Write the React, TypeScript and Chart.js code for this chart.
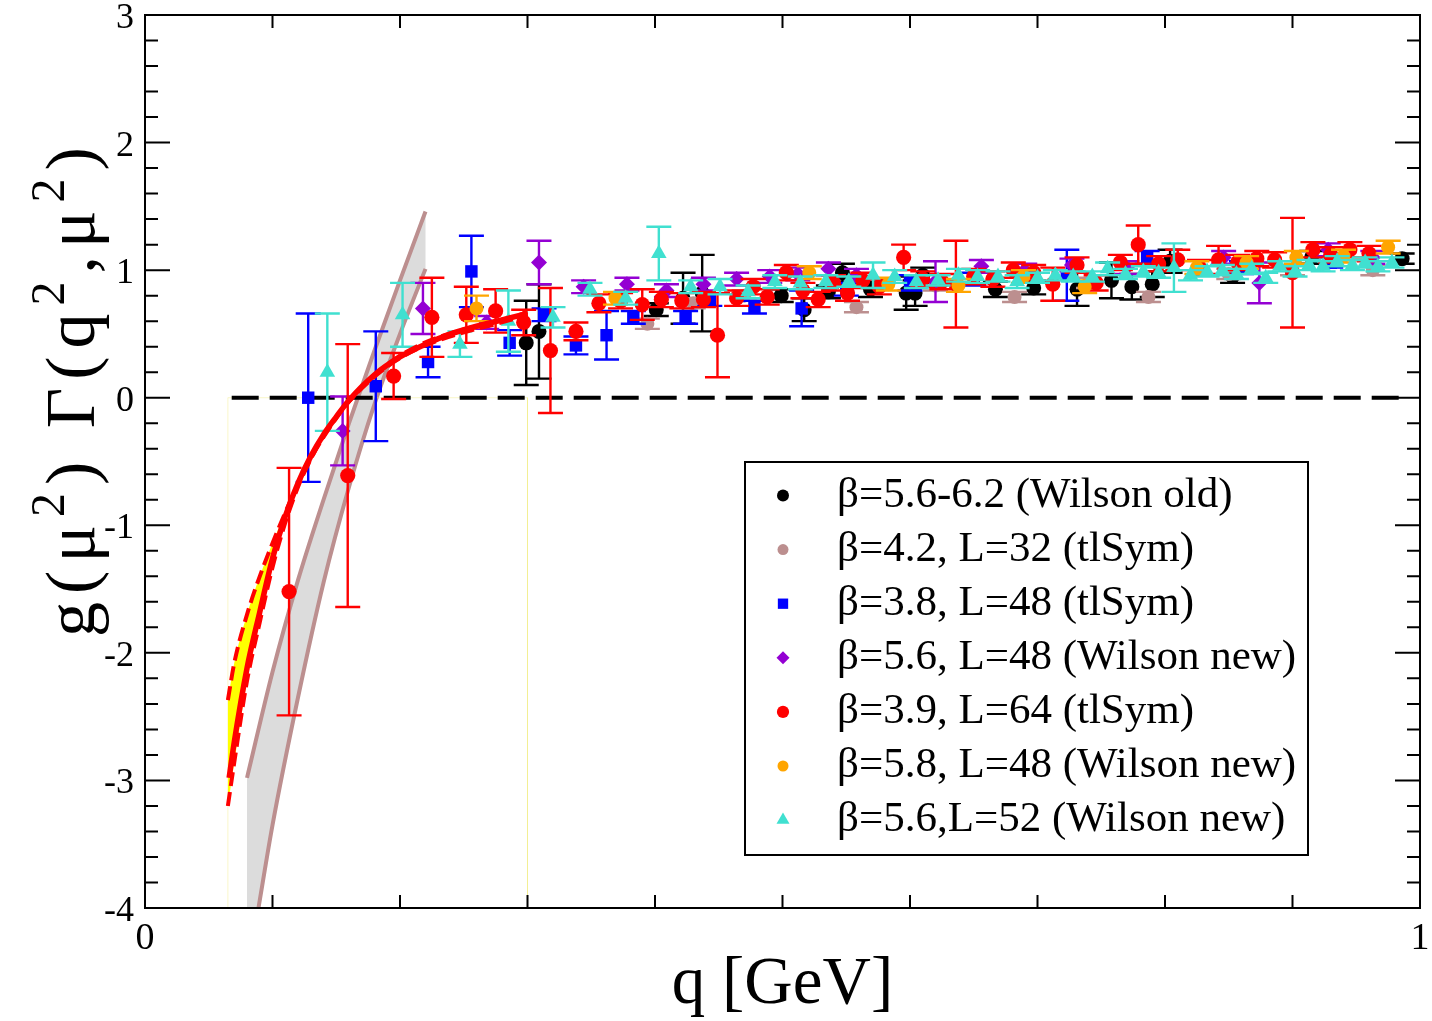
import React, { useEffect, useRef } from "react";
import { Chart, registerables } from "chart.js";

Chart.register(...registerables);

const SERIF = '"Liberation Serif", "Times New Roman", serif';

// ---- axis ticks ----
const xTickValues = [0, 0.1, 0.2, 0.3, 0.4, 0.5, 0.6, 0.7, 0.8, 0.9, 1];
const xTickLabels = ["0", "", "", "", "", "", "", "", "", "", "1"];
const yTickValues = [-4, -3, -2, -1, 0, 1, 2, 3];
const yTickLabels = ["-4", "-3", "-2", "-1", "0", "1", "2", "3"];

// ---- β=5.6-6.2 (Wilson old) ----
const wilsonOldQ = [0.299, 0.309, 0.401, 0.422, 0.437, 0.499, 0.517, 0.536, 0.547, 0.569, 0.597, 0.604, 0.61, 0.667, 0.697, 0.731, 0.758, 0.774, 0.79, 0.804, 0.853, 0.915, 0.986];
const wilsonOldG = [0.43, 0.52, 0.69, 0.78, 0.82, 0.8, 0.69, 0.83, 0.98, 0.85, 0.82, 0.82, 0.96, 0.85, 0.86, 0.85, 0.92, 0.87, 0.89, 1.07, 0.95, 1.1, 1.09];
const wilsonOldErr = [0.33, 0.37, 0.05, 0.2, 0.3, 0.05, 0.09, 0.05, 0.07, 0.06, 0.13, 0.1, 0.06, 0.06, 0.05, 0.13, 0.14, 0.1, 0.1, 0.09, 0.05, 0.05, 0.04];

// ---- β=4.2, L=32 (tlSym) ----
const sym42Q = [0.394, 0.43, 0.47, 0.558, 0.62, 0.682, 0.74, 0.787, 0.85, 0.9, 0.963];
const sym42G = [0.58, 0.74, 0.8, 0.71, 0.88, 0.79, 0.9, 0.79, 0.97, 1.0, 1.0];
const sym42Err = [0.04, 0.04, 0.04, 0.04, 0.04, 0.04, 0.04, 0.04, 0.04, 0.04, 0.04];

// ---- β=3.8, L=48 (tlSym) ----
const sym38Q = [0.128, 0.181, 0.222, 0.256, 0.286, 0.313, 0.338, 0.362, 0.383, 0.424, 0.443, 0.478, 0.515, 0.55, 0.6, 0.65, 0.723, 0.786, 0.86, 0.93];
const sym38G = [0.0, 0.09, 0.28, 0.99, 0.43, 0.65, 0.41, 0.49, 0.63, 0.63, 0.77, 0.71, 0.7, 0.85, 0.9, 0.93, 0.96, 1.1, 1.02, 1.06];
const sym38Err = [0.66, 0.43, 0.12, 0.28, 0.1, 0.05, 0.07, 0.19, 0.05, 0.05, 0.05, 0.05, 0.14, 0.05, 0.06, 0.05, 0.2, 0.05, 0.05, 0.04];

// ---- β=5.6, L=48 (Wilson new) ----
const w56L48Q = [0.155, 0.218, 0.268, 0.309, 0.344, 0.378, 0.409, 0.438, 0.464, 0.49, 0.512, 0.536, 0.558, 0.62, 0.656, 0.69, 0.727, 0.77, 0.846, 0.874, 0.928, 0.963];
const w56L48G = [-0.26, 0.7, 0.59, 1.06, 0.87, 0.89, 0.84, 0.89, 0.93, 0.95, 0.97, 1.01, 0.96, 0.91, 1.03, 1.0, 1.04, 1.02, 1.1, 0.9, 1.16, 1.1];
const w56L48Err = [0.27, 0.2, 0.05, 0.17, 0.05, 0.05, 0.05, 0.05, 0.05, 0.05, 0.05, 0.05, 0.05, 0.16, 0.05, 0.05, 0.05, 0.05, 0.05, 0.16, 0.05, 0.05];

// ---- β=3.9, L=64 (tlSym) ----
const sym39Q = [0.113, 0.159, 0.195, 0.225, 0.252, 0.275, 0.297, 0.318, 0.338, 0.356, 0.373, 0.39, 0.405, 0.421, 0.438, 0.449, 0.464, 0.477, 0.488, 0.503, 0.516, 0.528, 0.54, 0.551, 0.563, 0.576, 0.595, 0.61, 0.625, 0.636, 0.65, 0.665, 0.681, 0.697, 0.712, 0.731, 0.746, 0.765, 0.779, 0.795, 0.81, 0.827, 0.842, 0.857, 0.872, 0.886, 0.9, 0.916, 0.93, 0.945, 0.96];
const sym39G = [-1.52, -0.61, 0.17, 0.63, 0.65, 0.68, 0.59, 0.37, 0.52, 0.74, 0.76, 0.73, 0.77, 0.76, 0.77, 0.49, 0.78, 0.87, 0.79, 0.98, 0.84, 0.77, 0.9, 0.82, 0.92, 0.87, 1.1, 0.93, 0.91, 0.89, 0.95, 0.93, 1.0, 0.98, 0.89, 1.04, 0.9, 1.06, 1.2, 1.05, 1.08, 1.02, 1.08, 1.06, 1.09, 1.08, 0.98, 1.16, 1.12, 1.16, 1.13];
const sym39Err = [0.97, 1.03, 0.18, 0.31, 0.22, 0.17, 0.1, 0.49, 0.07, 0.07, 0.06, 0.12, 0.06, 0.06, 0.06, 0.33, 0.06, 0.06, 0.06, 0.06, 0.06, 0.06, 0.06, 0.06, 0.06, 0.06, 0.1, 0.06, 0.06, 0.34, 0.06, 0.06, 0.06, 0.06, 0.13, 0.06, 0.06, 0.06, 0.15, 0.06, 0.08, 0.06, 0.11, 0.06, 0.06, 0.06, 0.43, 0.06, 0.06, 0.06, 0.06];

// ---- β=5.8, L=48 (Wilson new) ----
const w58Q = [0.26, 0.369, 0.521, 0.583, 0.638, 0.689, 0.737, 0.825, 0.864, 0.903, 0.94, 0.975];
const w58G = [0.7, 0.78, 0.98, 0.89, 0.88, 0.95, 0.87, 1.02, 1.06, 1.1, 1.11, 1.18];
const w58Err = [0.1, 0.05, 0.05, 0.05, 0.05, 0.05, 0.05, 0.05, 0.05, 0.05, 0.05, 0.05];

// ---- β=5.6, L=52 (Wilson new) ----
const w56L52Q = [0.143, 0.202, 0.247, 0.285, 0.32, 0.349, 0.377, 0.403, 0.428, 0.451, 0.473, 0.494, 0.514, 0.534, 0.552, 0.571, 0.588, 0.605, 0.622, 0.638, 0.653, 0.669, 0.684, 0.7, 0.714, 0.728, 0.743, 0.755, 0.769, 0.783, 0.795, 0.807, 0.82, 0.833, 0.845, 0.856, 0.868, 0.879, 0.89, 0.902, 0.913, 0.924, 0.935, 0.947, 0.957, 0.967, 0.978];
const w56L52G = [0.2, 0.65, 0.42, 0.6, 0.63, 0.85, 0.78, 1.13, 0.87, 0.87, 0.83, 0.91, 0.9, 0.91, 0.91, 0.96, 0.95, 0.91, 0.92, 0.96, 0.95, 0.95, 0.91, 0.94, 0.96, 0.95, 0.95, 1.01, 0.97, 0.99, 0.98, 1.02, 0.96, 0.99, 1.0, 0.97, 1.01, 0.94, 1.03, 0.99, 1.04, 1.03, 1.07, 1.04, 1.06, 1.03, 1.06];
const w56L52Err = [0.46, 0.25, 0.1, 0.24, 0.08, 0.05, 0.05, 0.21, 0.05, 0.06, 0.05, 0.05, 0.05, 0.05, 0.04, 0.1, 0.05, 0.05, 0.04, 0.05, 0.05, 0.04, 0.05, 0.04, 0.04, 0.04, 0.04, 0.05, 0.04, 0.04, 0.04, 0.19, 0.04, 0.04, 0.04, 0.04, 0.04, 0.04, 0.04, 0.04, 0.04, 0.04, 0.04, 0.04, 0.04, 0.04, 0.04];

// ---- infrared fit with its error band ----
const fitQ = [0.066, 0.07, 0.08, 0.09, 0.1, 0.11, 0.12, 0.13, 0.14, 0.15, 0.16, 0.18, 0.2, 0.22, 0.24, 0.26, 0.28, 0.3];
const fitG = [-2.98, -2.7, -2.12, -1.68, -1.26, -0.93, -0.67, -0.46, -0.29, -0.15, -0.02, 0.18, 0.32, 0.42, 0.5, 0.56, 0.61, 0.66];
const fitBandQ = [0.065, 0.07, 0.08, 0.09, 0.1, 0.11, 0.12, 0.13, 0.14, 0.16, 0.2, 0.3];
const fitUpperG = [-2.37, -2.08, -1.7, -1.4, -1.14, -0.9, -0.68, -0.48, -0.31, -0.03, 0.33, 0.67];
const fitLowerG = [-3.2, -2.86, -2.22, -1.76, -1.33, -0.98, -0.7, -0.48, -0.3, -0.03, 0.31, 0.65];

// ---- second (grey) band ----
const greyLeftQ = [0.08, 0.1, 0.12, 0.14, 0.16, 0.18, 0.2, 0.22];
const greyLeftG = [-2.98, -2.15, -1.43, -0.8, -0.2, 0.37, 0.92, 1.46];
const greyRightQ = [0.089, 0.1, 0.12, 0.14, 0.16, 0.18, 0.2, 0.22];
const greyRightG = [-4.0, -3.35, -2.35, -1.45, -0.7, -0.05, 0.5, 1.01];

// ---- fit window and reference line ----
const windowQ = [0.065, 0.065, 0.3, 0.3];
const windowG = [-4, 0, 0, -4];
const zeroQ = [0.068, 0.99];
const zeroG = [0, 0];

const legendLabels = [
  "β=5.6-6.2 (Wilson old)",
  "β=4.2, L=32 (tlSym)",
  "β=3.8, L=48 (tlSym)",
  "β=5.6, L=48 (Wilson new)",
  "β=3.9, L=64 (tlSym)",
  "β=5.8, L=48 (Wilson new)",
  "β=5.6,L=52 (Wilson new)",
];

const pts = (xs: number[], ys: number[]) => xs.map((x, i) => ({ x, y: ys[i] }));

type Series = { q: number[]; g: number[]; err: number[]; color: string; style: string; radius: number };
const series: Series[] = [
  { q: wilsonOldQ, g: wilsonOldG, err: wilsonOldErr, color: "#000000", style: "circle", radius: 7.5 },
  { q: sym42Q, g: sym42G, err: sym42Err, color: "#bc8f8f", style: "circle", radius: 7 },
  { q: sym38Q, g: sym38G, err: sym38Err, color: "#0000ff", style: "rect", radius: 8.8 },
  { q: w56L48Q, g: w56L48G, err: w56L48Err, color: "#9400d3", style: "rectRot", radius: 8 },
  { q: sym39Q, g: sym39G, err: sym39Err, color: "#ff0000", style: "circle", radius: 7.6 },
  { q: w58Q, g: w58G, err: w58Err, color: "#ffa500", style: "circle", radius: 7 },
  { q: w56L52Q, g: w56L52G, err: w56L52Err, color: "#40e0d0", style: "triangle", radius: 9 },
];

const errorBarPlugin = {
  id: "errorBars",
  beforeDatasetDraw(chart: any, args: any) {
    const ds = chart.data.datasets[args.index];
    if (!ds.errors) return;
    const { ctx, chartArea: a } = chart;
    const xs = chart.scales.x;
    const ys = chart.scales.y;
    ctx.save();
    ctx.beginPath();
    ctx.rect(a.left, a.top, a.right - a.left, a.bottom - a.top);
    ctx.clip();
    ctx.strokeStyle = ds.borderColor;
    ctx.lineWidth = 2.4;
    ds.data.forEach((p: any, i: number) => {
      const e = ds.errors[i];
      const px = xs.getPixelForValue(p.x);
      const yt = ys.getPixelForValue(p.y + e);
      const yb = ys.getPixelForValue(p.y - e);
      ctx.beginPath();
      ctx.moveTo(px, yt);
      ctx.lineTo(px, yb);
      ctx.moveTo(px - 12.5, yt);
      ctx.lineTo(px + 12.5, yt);
      ctx.moveTo(px - 12.5, yb);
      ctx.lineTo(px + 12.5, yb);
      ctx.stroke();
    });
    ctx.restore();
  },
};

const drawMarker = (ctx: CanvasRenderingContext2D, style: string, x: number, y: number, r: number, color: string) => {
  ctx.fillStyle = color;
  ctx.beginPath();
  if (style === "circle") {
    ctx.arc(x, y, r, 0, Math.PI * 2);
  } else if (style === "rect") {
    const s = r * Math.SQRT1_2;
    ctx.rect(x - s, y - s, 2 * s, 2 * s);
  } else if (style === "rectRot") {
    ctx.moveTo(x - r, y);
    ctx.lineTo(x, y - r);
    ctx.lineTo(x + r, y);
    ctx.lineTo(x, y + r);
    ctx.closePath();
  } else {
    for (let k = 0; k < 3; k++) {
      const ang = (k * 2 * Math.PI) / 3;
      const px = x + Math.sin(ang) * r;
      const py = y - Math.cos(ang) * r;
      if (k === 0) ctx.moveTo(px, py);
      else ctx.lineTo(px, py);
    }
    ctx.closePath();
  }
  ctx.fill();
};

const framePlugin = {
  id: "frameAndLabels",
  afterDatasetsDraw(chart: any) {
    const { ctx, chartArea: a } = chart;
    const xs = chart.scales.x;
    const ys = chart.scales.y;
    ctx.save();
    ctx.strokeStyle = "#000";
    ctx.lineWidth = 2;
    ctx.strokeRect(a.left, a.top, a.right - a.left, a.bottom - a.top);
    ctx.beginPath();
    xTickValues.forEach((v) => {
      const px = xs.getPixelForValue(v);
      ctx.moveTo(px, a.bottom);
      ctx.lineTo(px, a.bottom - 13);
      ctx.moveTo(px, a.top);
      ctx.lineTo(px, a.top + 13);
    });
    for (let k = 0; k <= 35; k++) {
      const v = -4 + k * 0.2;
      const major = k % 5 === 0;
      const len = major ? 25 : 13;
      const py = ys.getPixelForValue(v);
      ctx.moveTo(a.left, py);
      ctx.lineTo(a.left + len, py);
      ctx.moveTo(a.right, py);
      ctx.lineTo(a.right - len, py);
    }
    ctx.stroke();
    ctx.restore();
  },
  afterDraw(chart: any) {
    const { ctx, chartArea: a } = chart;
    const xs = chart.scales.x;
    const ys = chart.scales.y;
    ctx.save();
    ctx.fillStyle = "#000";
    // tick labels
    ctx.font = `38px ${SERIF}`;
    ctx.textAlign = "center";
    ctx.textBaseline = "alphabetic";
    xTickValues.forEach((v, i) => {
      if (xTickLabels[i]) ctx.fillText(xTickLabels[i], xs.getPixelForValue(v), a.bottom + 41);
    });
    ctx.font = `36px ${SERIF}`;
    ctx.textAlign = "right";
    yTickValues.forEach((v, i) => {
      ctx.fillText(yTickLabels[i], a.left - 11, ys.getPixelForValue(v) + 13);
    });
    // x title
    ctx.font = `67px ${SERIF}`;
    ctx.textAlign = "center";
    ctx.fillText("q [GeV]", (a.left + a.right) / 2, 1003);
    // y title, with superscripts
    const parts: [string, boolean][] = [
      ["g(μ", false],
      ["2", true],
      [") Γ(q", false],
      ["2", true],
      [",μ", false],
      ["2", true],
      [")", false],
    ];
    const base = `70px ${SERIF}`;
    const sup = `48px ${SERIF}`;
    const spacing = 8;
    ctx.save();
    (ctx as any).letterSpacing = `${spacing}px`;
    let total = 0;
    parts.forEach(([t, s]) => {
      ctx.font = s ? sup : base;
      total += ctx.measureText(t).width;
    });
    ctx.translate(94, 388);
    ctx.rotate(-Math.PI / 2);
    ctx.textAlign = "left";
    let cx = -total / 2;
    parts.forEach(([t, s]) => {
      ctx.font = s ? sup : base;
      ctx.fillText(t, cx, s ? -30 : 0);
      cx += ctx.measureText(t).width;
    });
    ctx.restore();

    // legend
    const L = 745, T = 462, R = 1308, B = 855;
    ctx.fillStyle = "#fff";
    ctx.fillRect(L, T, R - L, B - T);
    ctx.strokeStyle = "#000";
    ctx.lineWidth = 2;
    ctx.strokeRect(L, T, R - L, B - T);
    ctx.font = `43px ${SERIF}`;
    ctx.textAlign = "left";
    legendLabels.forEach((label, i) => {
      const cy = 495.5 + i * 54.1;
      const s = series[i];
      drawMarker(ctx, s.style, 783, cy, s.radius - 1.5, s.color);
      ctx.fillStyle = "#000";
      ctx.fillText(label, 837, cy + 11);
    });
    ctx.restore();
  },
};

export default function App() {
  const ref = useRef<HTMLCanvasElement | null>(null);

  useEffect(() => {
    if (!ref.current) return;
    const datasets: any[] = [];

    // grey band: filled outline, then its two edges
    const greyOutline = [
      { x: greyLeftQ[0], y: -4 },
      ...pts(greyLeftQ, greyLeftG),
      ...pts(greyRightQ, greyRightG).reverse(),
    ];
    datasets.push({ type: "line", data: greyOutline, borderWidth: 0, pointRadius: 0, backgroundColor: "#dcdcdc", fill: "shape", tension: 0, order: 100 });
    datasets.push({ type: "line", data: pts(greyLeftQ, greyLeftG), borderColor: "#bc8f8f", borderWidth: 4, pointRadius: 0, fill: false, cubicInterpolationMode: "monotone", order: 99 });
    datasets.push({ type: "line", data: pts(greyRightQ, greyRightG), borderColor: "#bc8f8f", borderWidth: 4, pointRadius: 0, fill: false, cubicInterpolationMode: "monotone", order: 99 });
    datasets.push({ type: "line", data: pts(windowQ, windowG), borderColor: "rgba(240,235,120,0.4)", borderWidth: 1, pointRadius: 0, fill: false, tension: 0, order: 98 });
    datasets.push({ type: "line", data: pts(zeroQ, zeroG), borderColor: "#000", borderWidth: 4, borderDash: [27, 11], pointRadius: 0, fill: false, order: 95 });

    series.forEach((s, i) => {
      datasets.push({
        type: "scatter",
        data: pts(s.q, s.g),
        errors: s.err,
        borderColor: s.color,
        backgroundColor: s.color,
        pointStyle: s.style,
        pointRadius: s.radius,
        pointBorderWidth: 0,
        showLine: false,
        order: 90 - i,
      });
    });

    // yellow error band of the fit, its dashed edges and the central curve
    const upperIdx = datasets.length;
    datasets.push({ type: "line", data: pts(fitBandQ, fitUpperG), borderColor: "#ff0000", borderWidth: 4, borderDash: [14, 6], pointRadius: 0, backgroundColor: "#ffff00", fill: upperIdx + 1, cubicInterpolationMode: "monotone", order: 12 });
    datasets.push({ type: "line", data: pts(fitBandQ, fitLowerG), borderColor: "#ff0000", borderWidth: 4, borderDash: [14, 6], pointRadius: 0, fill: false, cubicInterpolationMode: "monotone", order: 11 });
    datasets.push({ type: "line", data: pts(fitQ, fitG), borderColor: "#ff0000", borderWidth: 5.5, pointRadius: 0, fill: false, cubicInterpolationMode: "monotone", order: 10 });

    const chart = new Chart(ref.current, {
      type: "scatter",
      data: { datasets },
      options: {
        animation: false,
        responsive: false,
        devicePixelRatio: 1,
        layout: { padding: { left: 145, right: 12, top: 15, bottom: 113 } },
        plugins: { legend: { display: false }, tooltip: { enabled: false } },
        scales: {
          x: { type: "linear", min: 0, max: 1, display: false },
          y: { type: "linear", min: -4, max: 3, display: false },
        },
      },
      plugins: [errorBarPlugin, framePlugin],
    } as any);
    return () => chart.destroy();
  }, []);

  return (
    <div style={{ position: "absolute", left: 0, top: 0, width: 1432, height: 1021, background: "#fff" }}>
      <canvas ref={ref} width={1432} height={1021} />
    </div>
  );
}
